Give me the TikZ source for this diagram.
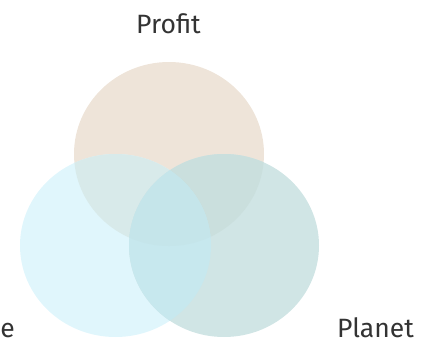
\documentclass[tikz,border=0pt]{standalone}
\usepackage{fontspec}
\setmainfont{Fira Sans}
\definecolor{cP}{HTML}{EEE4D9}
\definecolor{cL}{HTML}{E0F6FC}
\definecolor{cR}{HTML}{D0E5E5}
\definecolor{cPL}{HTML}{D8EAEA}
\definecolor{cPR}{HTML}{CADFDD}
\definecolor{cLR}{HTML}{C7E8EE}
\definecolor{cPLR}{HTML}{C5E5EA}
\definecolor{textc}{HTML}{333333}
\begin{document}
\begin{tikzpicture}[x=1pt,y=-1pt,
  lbl/.style={text=textc, font=\fontsize{26.5}{30}\selectfont, inner sep=0pt}]
\useasboundingbox (0,0) rectangle (429,346);
\def\Pc{(169,154) ellipse [x radius=95, y radius=92]}
\def\Lc{(115.5,245.5) ellipse [x radius=95.5, y radius=91.5]}
\def\Rc{(224,245.5) ellipse [x radius=95, y radius=91.5]}
\fill[cP] \Pc;
\fill[cL] \Lc;
\fill[cR] \Rc;
\begin{scope}\clip \Pc; \fill[cPL] \Lc; \end{scope}
\begin{scope}\clip \Pc; \fill[cPR] \Rc; \end{scope}
\begin{scope}\clip \Lc; \fill[cLR] \Rc; \end{scope}
\begin{scope}\clip \Pc; \clip \Lc; \fill[cPLR] \Rc; \end{scope}
\node[lbl, anchor=base west] (profit) at (136,33) {Profit};
\node[lbl, anchor=base west] (planet) at (337,337) {Planet};
\node[lbl, anchor=base east] (people) at (15,337) {People};
\end{tikzpicture}
\end{document}
